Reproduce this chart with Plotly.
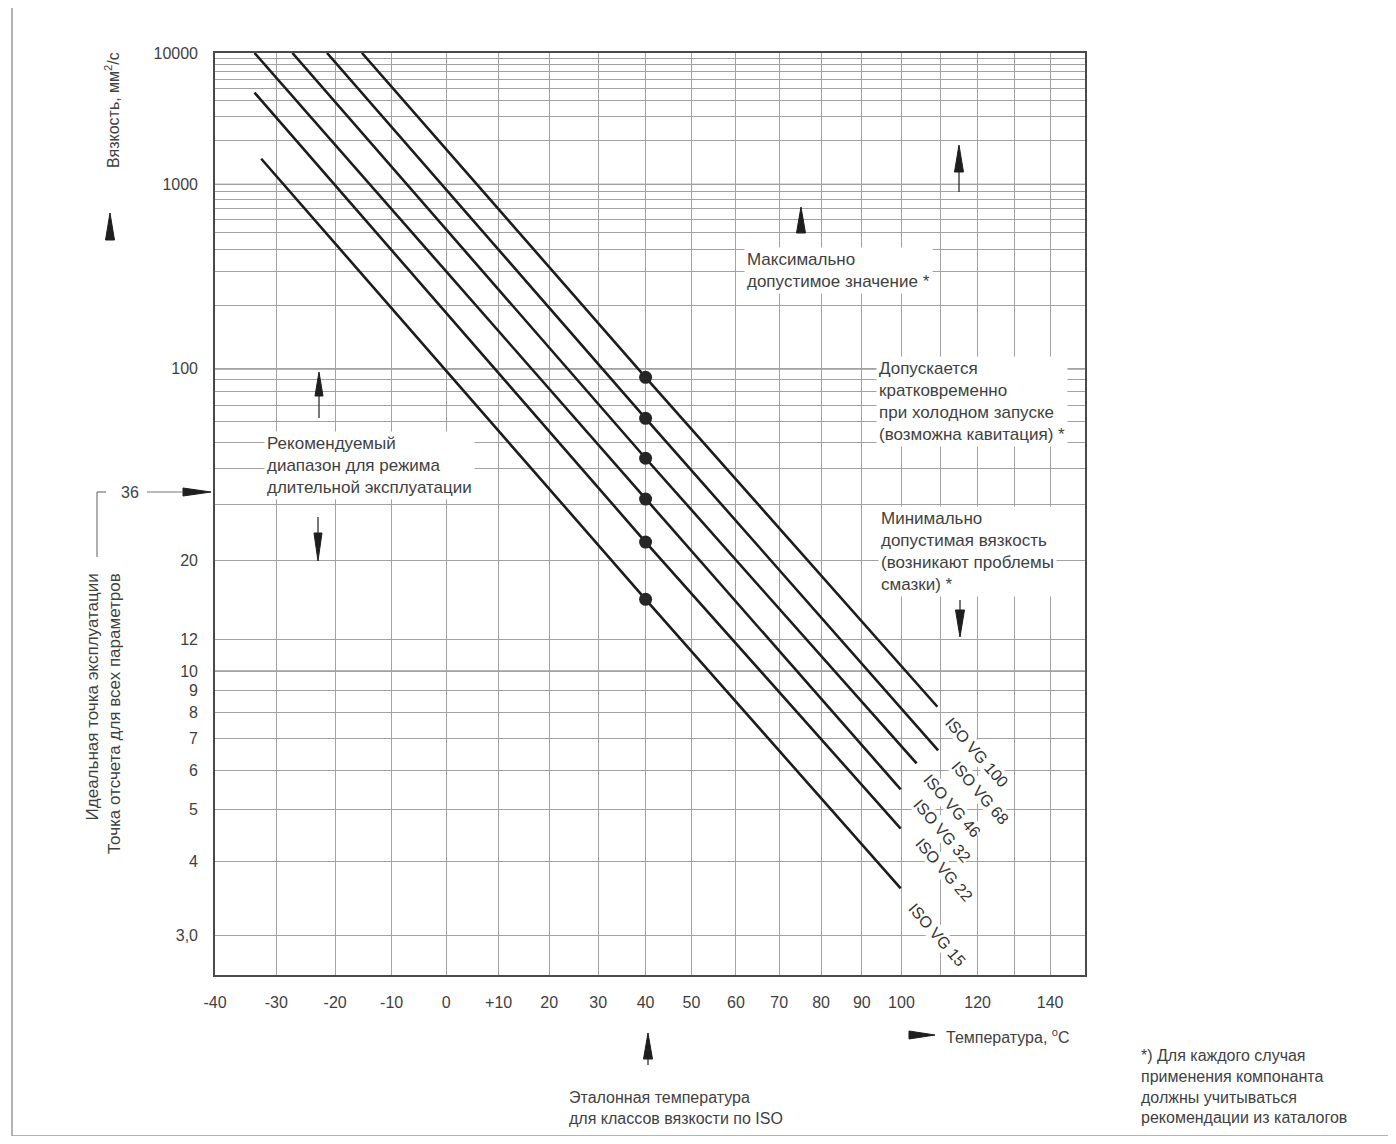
import numpy as np
import plotly.graph_objects as go

# ---------------- data ----------------
grades = ["ISO VG 100", "ISO VG 68", "ISO VG 46", "ISO VG 32", "ISO VG 22", "ISO VG 15"]
t_start = [-15.3, -21.4, -27.3, -33.6, -33.6, -32.5]      # °C, upper-left end of each line
v_start = [10000, 10000, 10000, 10000, 4650, 1490]       # mm²/s
t_ref = 40                                               # reference temperature, °C
v_ref = [91.8, 62.0, 43.6, 31.3, 22.7, 15.4]             # mm²/s at 40 °C (dots)
t_end = [109.3, 109.5, 103.9, 99.8, 99.8, 99.8]          # °C, lower-right end
v_end = [8.24, 6.60, 6.19, 5.48, 4.60, 3.59]             # mm²/s

x_grid = list(range(-40, 151, 10))
x_tick_text = {-40: "-40", -30: "-30", -20: "-20", -10: "-10", 0: "0", 10: "+10",
               20: "20", 30: "30", 40: "40", 50: "50", 60: "60", 70: "70", 80: "80",
               90: "90", 100: "100", 120: "120", 140: "140"}
y_grid = [10000, 9000, 8000, 7000, 6000, 5000, 4000, 3000, 2000,
          1000, 900, 800, 700, 600, 500, 400, 300, 200,
          100, 90, 80, 70, 60, 50, 40, 30, 20, 12, 10, 9, 8, 7, 6, 5, 4, 3]
y_tick_text = {10000: "10000", 1000: "1000", 100: "100", 20: "20", 12: "12", 10: "10",
               9: "9", 8: "8", 7: "7", 6: "6", 5: "5", 4: "4", 3: "3,0"}
x_min, x_max = -40, 150
y_min, y_max = 2.6, 10000


# Ubbelohde–Walther chart scales
def wx(t):
    return np.log10(np.asarray(t, dtype=float) + 273.15)


def wy(v):
    return np.log10(np.log10(np.asarray(v, dtype=float) + 0.8))


# page offset of the plot div (body margin)
OFF = 8
W, H = 1396 - 2 * OFF, 1144 - 2 * OFF
# plot-area pixel frame on the page (for placing decorations)
L, R, T, B = 215, 1085, 53, 975


def px(xp):
    return (xp - L) / (R - L)


def py(yp):
    return (B - yp) / (B - T)


TXT = "#3f3f3f"
FONT = "Liberation Sans, Arial, Helvetica, sans-serif"

fig = go.Figure()

for i, g in enumerate(grades):
    fig.add_trace(go.Scatter(
        x=wx([t_start[i], t_ref, t_end[i]]),
        y=wy([v_start[i], v_ref[i], v_end[i]]),
        mode="lines", line=dict(color="#1c1c1c", width=2.6),
        name=g, showlegend=False, hoverinfo="skip"))

fig.add_trace(go.Scatter(
    x=wx([t_ref] * len(v_ref)), y=wy(v_ref), mode="markers",
    marker=dict(color="#262626", size=13), showlegend=False, hoverinfo="skip"))

shapes = []
annotations = []

# darker main decades
for v in [1000, 100, 10]:
    shapes.append(dict(type="line", xref="paper", yref="y", x0=0, x1=1,
                       y0=float(wy(v)), y1=float(wy(v)),
                       line=dict(color="#6a6a6a", width=1.4), layer="between"))


def seg(x0, y0, x1, y1, color="#777", width=1.2):
    shapes.append(dict(type="line", xref="paper", yref="paper",
                       x0=px(x0), y0=py(y0), x1=px(x1), y1=py(y1),
                       line=dict(color=color, width=width)))


def tri(tx, ty, direction, length, width, stem=0, color="#1e1e1e"):
    if direction == "up":
        pts = [(tx, ty), (tx - width / 2, ty + length), (tx + width / 2, ty + length)]
        st = ((tx, ty + length), (tx, ty + length + stem))
    elif direction == "down":
        pts = [(tx, ty), (tx - width / 2, ty - length), (tx + width / 2, ty - length)]
        st = ((tx, ty - length), (tx, ty - length - stem))
    else:  # right
        pts = [(tx, ty), (tx - length, ty - width / 2), (tx - length, ty + width / 2)]
        st = ((tx - length, ty), (tx - length - stem, ty))
    path = "M {:.5f},{:.5f} L {:.5f},{:.5f} L {:.5f},{:.5f} Z".format(
        px(pts[0][0]), py(pts[0][1]), px(pts[1][0]), py(pts[1][1]), px(pts[2][0]), py(pts[2][1]))
    shapes.append(dict(type="path", xref="paper", yref="paper", path=path,
                       fillcolor=color, line=dict(color=color, width=1)))
    if stem:
        seg(st[0][0], st[0][1], st[1][0], st[1][1], color=color, width=1.2)


# arrows
tri(110, 213, "up", 27, 9)
tri(319, 372, "up", 24, 8, stem=22)
tri(318, 561, "down", 28, 8, stem=16)
tri(801, 207, "up", 26, 9)
tri(959, 145, "up", 27, 9, stem=20)
tri(960, 637, "down", 27, 9, stem=10)
tri(935, 1035, "right", 26, 8)
tri(648, 1033, "up", 26, 9, stem=6)
tri(211, 492, "right", 28, 8)

# bracket for 36
seg(97, 492, 97, 557)
seg(97, 492, 106, 492)
seg(147, 492, 183, 492)
# outer frame of the sheet
seg(12, 0, 12, 1144, color="#9a9a9a", width=1.5)
seg(12, 1136, 1390, 1136, color="#9a9a9a", width=1.5)


def note(text, xl, yt, size=17, bg="white", align="left", xanchor="left", yanchor="top", angle=0):
    annotations.append(dict(text=text, xref="paper", yref="paper", x=px(xl), y=py(yt),
                            xanchor=xanchor, yanchor=yanchor, align=align, showarrow=False,
                            textangle=angle, bgcolor=bg, borderpad=2,
                            font=dict(family=FONT, size=size, color=TXT)))


note("Рекомендуемый<br>диапазон для режима<br>длительной эксплуатации", 264, 431)
note("Максимально<br>допустимое значение *", 744, 247)
note("Допускается<br>кратковременно<br>при холодном запуске<br>(возможна кавитация) *", 876, 356)
note("Минимально<br>допустимая вязкость<br>(возникают проблемы<br>смазки) *", 878, 506)
note("Эталонная температура<br>для классов вязкости по ISO", 566, 1086, size=16, bg="rgba(0,0,0,0)")
note("*) Для каждого случая<br>применения компонанта<br>должны учитываться<br>рекомендации из каталогов",
     1138, 1044, size=16, bg="rgba(0,0,0,0)")
note("Температура, <sup>o</sup>C", 943, 1036, size=16, bg="rgba(0,0,0,0)", yanchor="middle")
note("36", 130, 492, size=16, bg="rgba(0,0,0,0)", xanchor="center", yanchor="middle")
note("Вязкость, мм<sup>2</sup>/с", 112, 110, size=16, bg="rgba(0,0,0,0)",
     xanchor="center", yanchor="middle", angle=-90)
note("Идеальная точка эксплуатации<br>Точка отсчета для всех параметров", 104, 714, size=17,
     bg="rgba(0,0,0,0)", xanchor="center", yanchor="middle", angle=-90, align="right")

# ISO VG labels along the line ends
label_centers = [(977, 752), (980, 792), (952, 805), (942, 830), (944, 869), (937, 934)]
for g, (cx, cy) in zip(grades, label_centers):
    annotations.append(dict(text=g, xref="paper", yref="paper", x=px(cx), y=py(cy),
                            xanchor="center", yanchor="middle", showarrow=False, textangle=49,
                            bgcolor="white", borderpad=0,
                            font=dict(family=FONT, size=16, color="#333")))

axis_common = dict(showgrid=True, gridcolor="#a2a2a2", gridwidth=1, zeroline=False,
                   showline=True, linecolor="#4a4a4a", linewidth=1.6, mirror=True,
                   ticks="", tickfont=dict(family=FONT, size=16, color=TXT))

fig.update_xaxes(range=[float(wx(x_min)), float(wx(x_max))],
                 tickvals=[float(wx(t)) for t in x_grid],
                 ticktext=[x_tick_text.get(t, " ") for t in x_grid],
                 ticklabelstandoff=12, **axis_common)
fig.update_yaxes(range=[float(wy(y_min)), float(wy(y_max))],
                 tickvals=[float(wy(v)) for v in y_grid],
                 ticktext=[y_tick_text.get(v, " ") for v in y_grid],
                 ticklabelstandoff=12, **axis_common)

fig.update_layout(width=W, height=H, autosize=False,
                  margin=dict(l=L - OFF, r=W - (R - OFF), t=T - OFF, b=H - (B - OFF)),
                  paper_bgcolor="white", plot_bgcolor="white",
                  font=dict(family=FONT, color=TXT),
                  shapes=shapes, annotations=annotations, showlegend=False)

fig.write_html("out.html")
